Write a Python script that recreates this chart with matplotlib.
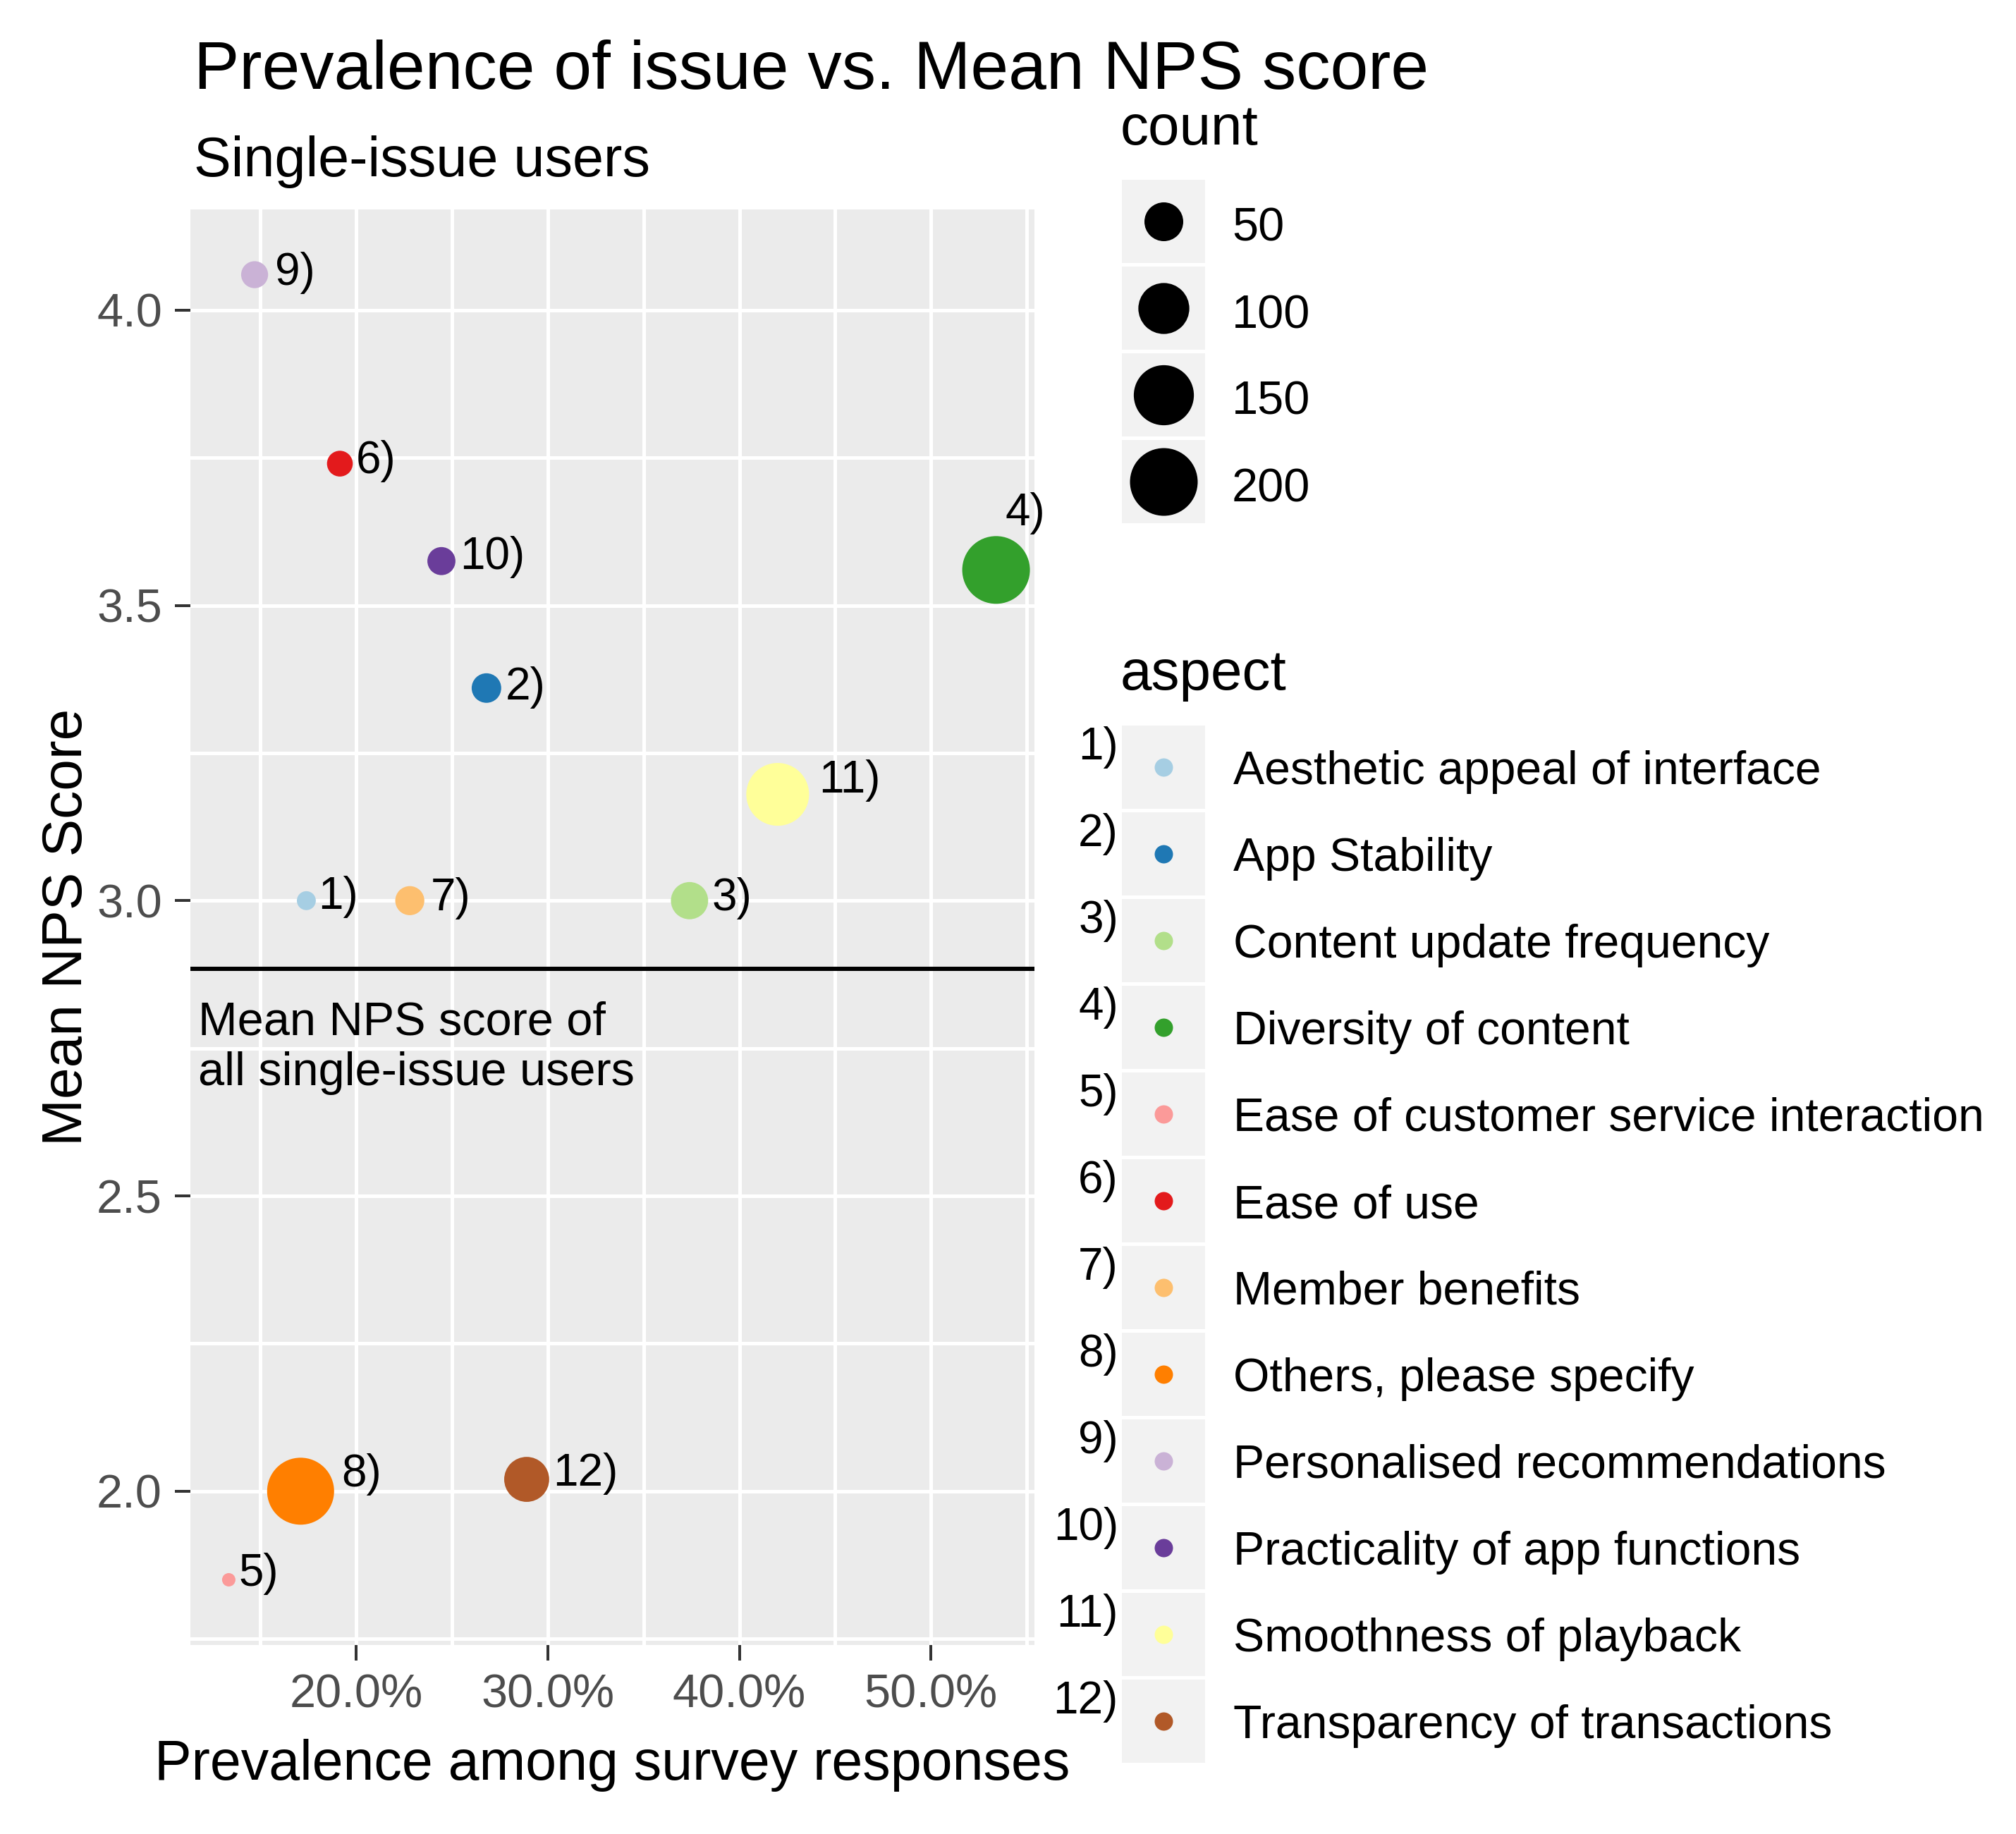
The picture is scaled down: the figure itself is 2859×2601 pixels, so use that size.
import matplotlib
matplotlib.use('Agg')
import numpy as np
import matplotlib.pyplot as plt
from matplotlib.ticker import FixedLocator, FuncFormatter
from matplotlib.patches import Rectangle

plt.rcParams['font.family'] = ['Liberation Sans', 'DejaVu Sans']

# data
aspects = ["Aesthetic appeal of interface", "App Stability", "Content update frequency",
           "Diversity of content", "Ease of customer service interaction", "Ease of use",
           "Member benefits", "Others, please specify", "Personalised recommendations",
           "Practicality of app functions", "Smoothness of playback", "Transparency of transactions"]
tags = ["1)", "2)", "3)", "4)", "5)", "6)", "7)", "8)", "9)", "10)", "11)", "12)"]
prevalence = [17.4, 26.8, 37.4, 53.4, 13.35, 19.15, 22.8, 17.1, 14.7, 24.45, 42.0, 28.9]
mean_nps = [3.0, 3.36, 3.0, 3.56, 1.85, 3.74, 3.0, 2.0, 4.06, 3.575, 3.18, 2.02]
counts = [10, 25, 45, 200, 8, 18, 24, 195, 20, 22, 167, 73]
overall_mean = 2.885
size_breaks = [50, 100, 150, 200]
colors = ["#A6CEE3", "#1F78B4", "#B2DF8A", "#33A02C", "#FB9A99", "#E31A1C",
          "#FDBF6F", "#FF7F00", "#CAB2D6", "#6A3D9A", "#FFFF99", "#B15928"]

# label nudges in pixels (right, down) from the point centre
label_nudge = [(17, -5), (27, -1), (32, -3), (13, -80), (14, -8), (23, -4),
               (30, -3), (58, -24), (29, -3), (26, -6), (58, -20), (37, -8)]

W, H, DPI = 2859, 2601, 200
PX = 72.0 / DPI


def size_pts(c):
    # ggplot-like area scale: size 1..6 over the data range
    c = np.asarray(c, dtype=float)
    mm = 1 + 5 * np.sqrt((c - min(counts)) / (max(counts) - min(counts)))
    d_px = 15.4 * mm + 3.6
    return (d_px * PX) ** 2


fig = plt.figure(figsize=(W / DPI, H / DPI), dpi=DPI)

# main panel
ax = fig.add_axes([270 / W, 1 - 2333 / H, 1197 / W, 2036 / H])
ax.set_facecolor("#EBEBEB")
for s in ax.spines.values():
    s.set_visible(False)

xr = max(prevalence) - min(prevalence)
yr = max(mean_nps) - min(mean_nps)
ax.set_xlim(min(prevalence) - 0.05 * xr, max(prevalence) + 0.05 * xr)
ax.set_ylim(min(mean_nps) - 0.05 * yr, max(mean_nps) + 0.05 * yr)

ax.xaxis.set_major_locator(FixedLocator([20, 30, 40, 50]))
ax.xaxis.set_minor_locator(FixedLocator([15, 25, 35, 45, 55]))
ax.yaxis.set_major_locator(FixedLocator([2.0, 2.5, 3.0, 3.5, 4.0]))
ax.yaxis.set_minor_locator(FixedLocator([1.75, 2.25, 2.75, 3.25, 3.75]))
ax.xaxis.set_major_formatter(FuncFormatter(lambda v, p: "%.1f%%" % v))
ax.yaxis.set_major_formatter(FuncFormatter(lambda v, p: "%.1f" % v))
ax.grid(True, which="both", color="white", linewidth=1.8)
ax.set_axisbelow(True)
ax.tick_params(which="major", length=22 * PX, width=4 * PX, color="#333333",
               labelsize=24, labelcolor="#4D4D4D", pad=18 * PX)
ax.tick_params(which="minor", length=0)

ax.axhline(overall_mean, color="black", linewidth=6 * PX)
ax.text(11.76, 2.75, "Mean NPS score of\nall single-issue users", fontsize=24,
        ha="left", va="center", linespacing=1.2)

ax.scatter(prevalence, mean_nps, s=size_pts(counts), c=colors, linewidths=0, zorder=3)
for i in range(len(tags)):
    dx, dy = label_nudge[i]
    ax.annotate(tags[i], (prevalence[i], mean_nps[i]), xytext=(dx * PX, -dy * PX),
                textcoords="offset points", ha="left", va="center", fontsize=23, zorder=4)

ax.set_xlabel("Prevalence among survey responses", fontsize=28.4, va="baseline")
ax.xaxis.set_label_coords(0.5, (2333 - 2524) / 2036)
ax.set_ylabel("Mean NPS Score", fontsize=28.9)
ax.yaxis.set_label_coords((133 - 270) / 1197, 0.5)

# overlay in pixel coordinates for titles and legends
lax = fig.add_axes([0, 0, 1, 1])
lax.set_xlim(0, W)
lax.set_ylim(H, 0)
lax.axis("off")

lax.text(275, 126, "Prevalence of issue vs. Mean NPS score", fontsize=34.8, va="baseline")
lax.text(275, 250, "Single-issue users", fontsize=28.5, va="baseline")

key_x0, key_w, pitch = 1591, 118, 123
# size legend
lax.text(1589, 205, "count", fontsize=28.8, va="baseline")
for j, b in enumerate(size_breaks):
    top = 255 + j * pitch
    lax.add_patch(Rectangle((key_x0, top), key_w, key_w, facecolor="#F2F2F2", edgecolor="none"))
    lax.scatter([key_x0 + key_w / 2], [top + key_w / 2], s=size_pts([b]), c="black", linewidths=0)
    lax.text(1747, top + key_w / 2 + 28, str(b), fontsize=24, va="baseline")

# colour legend
lax.text(1589, 978, "aspect", fontsize=28.8, va="baseline")
for j in range(len(aspects)):
    top = 1029 + j * pitch
    lax.add_patch(Rectangle((key_x0, top), key_w, key_w, facecolor="#F2F2F2", edgecolor="none"))
    lax.scatter([key_x0 + key_w / 2], [top + key_w / 2], s=(26 * PX) ** 2, c=colors[j], linewidths=0)
    lax.text(1749, top + key_w / 2 + 24, aspects[j], fontsize=23.8, va="baseline")
    lax.text(1586, top + 48, tags[j], fontsize=23, ha="right", va="baseline")

fig.savefig("out.png", dpi=DPI, facecolor="white")
